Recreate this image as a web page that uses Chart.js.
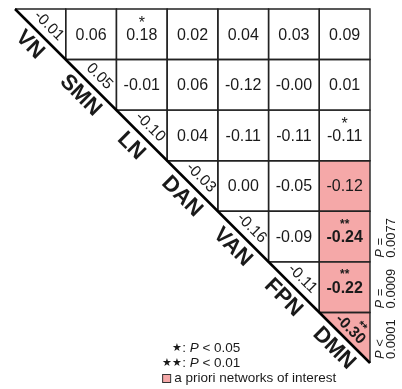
<!DOCTYPE html>
<html>
<head>
<meta charset="utf-8">
<script src="https://cdn.jsdelivr.net/npm/chart.js@4.4.1/dist/chart.umd.min.js"></script>
<style>
  body { margin: 0; background: #fff; }
  #wrap { width: 402px; height: 389px; }
</style>
</head>
<body>
<div id="wrap"><canvas id="myChart" width="402" height="389"></canvas></div>
<script>
// network names (rows / columns of the matrix)
var networks = ['VN', 'SMN', 'LN', 'DAN', 'VAN', 'FPN', 'DMN'];
// upper triangle, each row starts at its diagonal cell
var corrRows = [
  [-0.01, 0.06, 0.18, 0.02, 0.04, 0.03, 0.09],
  [0.05, -0.01, 0.06, -0.12, -0.00, 0.01],
  [-0.10, 0.04, -0.11, -0.11, -0.11],
  [-0.03, 0.00, -0.05, -0.12],
  [-0.16, -0.09, -0.24],
  [-0.11, -0.22],
  [-0.30]
];
// number of stars per cell (1: P < 0.05, 2: P < 0.01)
var starRows = [
  [0, 0, 1, 0, 0, 0, 0],
  [0, 0, 0, 0, 0, 0],
  [0, 0, 0, 0, 1],
  [0, 0, 0, 0],
  [0, 0, 2],
  [0, 2],
  [2]
];
// a priori networks of interest [row, col]
var interestCells = [[3, 6], [4, 6], [5, 6], [6, 6]];
// P values written at the right side
var pRows = [4, 5, 6];
var pSigns = ['=', '=', '<'];
var pValues = ['0.0077', '0.0009', '0.0001'];

var FONT = "'Liberation Sans', Arial, sans-serif";
var PINK = '#f5a8a8';
var INK = '#1a1a1a';

function fmt(v) {
  var neg = v < 0 || Object.is(v, -0);
  return (neg ? '-' : '') + Math.abs(v).toFixed(2);
}

function isInterest(r, c) {
  for (var k = 0; k < interestCells.length; k++) {
    if (interestCells[k][0] === r && interestCells[k][1] === c) return true;
  }
  return false;
}

// points at cell centres, the plugin below draws them
var cells = [];
for (var i = 0; i < corrRows.length; i++) {
  for (var j = 0; j < corrRows[i].length; j++) {
    var col = i + j;
    cells.push({ x: col + 0.5, y: i + 0.5, row: i, col: col, v: corrRows[i][j], stars: starRows[i][j] });
  }
}

function box(chart, row, col) {
  var xs = chart.scales.x, ys = chart.scales.y;
  return {
    l: xs.getPixelForValue(col), r: xs.getPixelForValue(col + 1),
    t: ys.getPixelForValue(row), b: ys.getPixelForValue(row + 1)
  };
}

function mixedLine(ctx, parts, x, y) {
  // parts: [text, font]
  for (var k = 0; k < parts.length; k++) {
    ctx.font = parts[k][1];
    ctx.fillText(parts[k][0], x, y);
    x += ctx.measureText(parts[k][0]).width;
  }
  return x;
}

var matrixPlugin = {
  id: 'matrix',
  afterDatasetsDraw: function (chart) {
    var ctx = chart.ctx;
    var data = chart.data.datasets[0].data;
    var xs = chart.scales.x, ys = chart.scales.y;
    var area = chart.chartArea;
    ctx.save();

    // fills
    data.forEach(function (d) {
      if (!isInterest(d.row, d.col)) return;
      var b = box(chart, d.row, d.col);
      ctx.fillStyle = PINK;
      ctx.beginPath();
      if (d.row === d.col) {
        ctx.moveTo(b.l, b.t); ctx.lineTo(b.r, b.t); ctx.lineTo(b.r, b.b);
      } else {
        ctx.rect(b.l, b.t, b.r - b.l, b.b - b.t);
      }
      ctx.closePath();
      ctx.fill();
    });

    // grid
    ctx.strokeStyle = '#222';
    ctx.lineWidth = 1.4;
    data.forEach(function (d) {
      var b = box(chart, d.row, d.col);
      ctx.beginPath();
      if (d.row === d.col) {
        ctx.moveTo(b.l, b.t); ctx.lineTo(b.r, b.t); ctx.lineTo(b.r, b.b);
      } else {
        ctx.rect(b.l, b.t, b.r - b.l, b.b - b.t);
      }
      ctx.stroke();
    });
    ctx.strokeStyle = '#000';
    ctx.lineWidth = 2.5;
    ctx.beginPath();
    ctx.moveTo(xs.getPixelForValue(0), ys.getPixelForValue(0));
    ctx.lineTo(xs.getPixelForValue(7), ys.getPixelForValue(7));
    ctx.stroke();

    // values
    ctx.fillStyle = INK;
    ctx.textAlign = 'center';
    ctx.textBaseline = 'middle';
    data.forEach(function (d) {
      var cx = xs.getPixelForValue(d.x), cy = ys.getPixelForValue(d.y);
      var bold = d.stars === 2;
      if (d.row === d.col) {
        ctx.save();
        ctx.translate(cx, cy);
        ctx.rotate(Math.PI / 4);
        ctx.font = (bold ? 'bold ' : '') + '15.5px ' + FONT;
        ctx.fillText(fmt(d.v), bold ? -2 : 0, bold ? -10 : -12);
        if (d.stars) {
          ctx.font = 'bold 12px ' + FONT;
          ctx.fillText(d.stars === 2 ? '**' : '*', 4, -20);
        }
        // network label below the diagonal
        ctx.font = 'bold 22px ' + FONT;
        ctx.fillText(networks[d.row], 0, 15);
        ctx.restore();
      } else {
        ctx.font = (bold ? 'bold ' : '') + '16px ' + FONT;
        ctx.fillText(fmt(d.v), cx, cy + 1);
        if (d.stars === 1) {
          ctx.font = '16px ' + FONT;
          ctx.fillText('*', cx, cy - 11);
        } else if (d.stars === 2) {
          ctx.font = 'bold 12px ' + FONT;
          ctx.fillText('**', cx, cy - 12);
        }
      }
    });

    // P values at the right
    ctx.textAlign = 'left';
    for (var k = 0; k < pRows.length; k++) {
      var yb = ys.getPixelForValue(pRows[k] + 1) - 4;
      ctx.save();
      ctx.translate(area.right, yb);
      ctx.rotate(-Math.PI / 2);
      mixedLine(ctx, [['P', 'italic 13px ' + FONT], [' ' + pSigns[k], '13px ' + FONT]], 0, 10);
      ctx.font = '13px ' + FONT;
      ctx.fillText(pValues[k], 0, 21);
      ctx.restore();
    }

    // legend
    var lx = xs.getPixelForValue(3) - 5;
    var ly = ys.getPixelForValue(7) - 15;
    ctx.fillStyle = INK;
    mixedLine(ctx, [['\u2605', '11px ' + FONT], [': ', '13.5px ' + FONT], ['P', 'italic 13.5px ' + FONT], [' < 0.05', '13.5px ' + FONT]], lx + 10, ly);
    mixedLine(ctx, [['\u2605\u2605', '11px ' + FONT], [': ', '13.5px ' + FONT], ['P', 'italic 13.5px ' + FONT], [' < 0.01', '13.5px ' + FONT]], lx, ly + 15);
    ctx.fillStyle = PINK;
    ctx.fillRect(lx, ly + 26, 8, 8);
    ctx.strokeStyle = '#333';
    ctx.lineWidth = 1;
    ctx.strokeRect(lx + 0.5, ly + 26.5, 8, 8);
    ctx.fillStyle = INK;
    mixedLine(ctx, [['a priori networks of interest', '13.5px ' + FONT]], lx + 12, ly + 30);

    ctx.restore();
  }
};

var ctx = document.getElementById('myChart');
var myChart = new Chart(ctx, {
  type: 'scatter',
  data: {
    datasets: [{ data: cells, pointRadius: 0, pointHoverRadius: 0 }]
  },
  options: {
    responsive: false,
    animation: false,
    events: [],
    layout: { padding: { left: 15, top: 9, right: 32, bottom: 26 } },
    plugins: { legend: { display: false }, tooltip: { enabled: false } },
    scales: {
      x: { type: 'linear', min: 0, max: 7, display: false },
      y: { type: 'linear', min: 0, max: 7, reverse: true, display: false }
    }
  },
  plugins: [matrixPlugin]
});
</script>
</body>
</html>
